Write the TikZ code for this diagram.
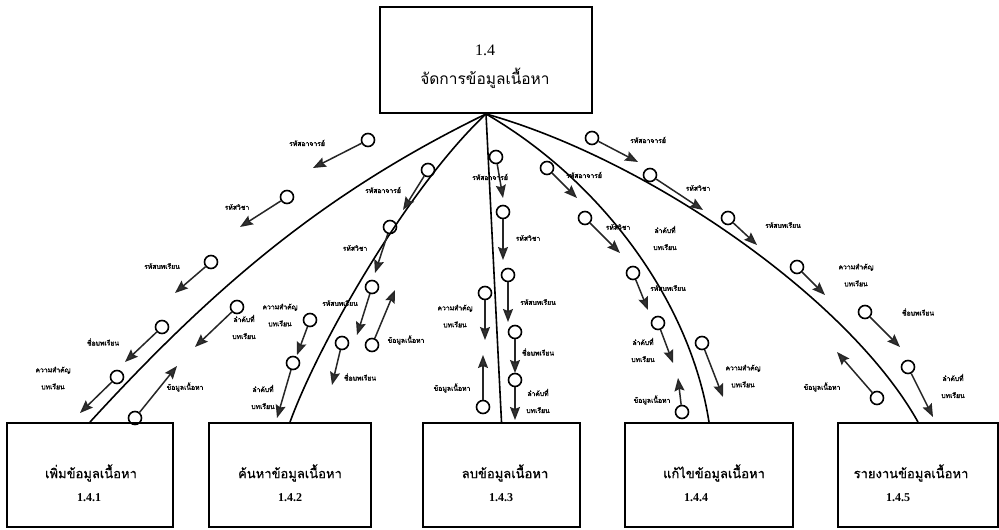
\documentclass[tikz,border=0pt]{standalone}
\usepackage{fontspec}
\setmainfont{Liberation Serif}
\newfontfamily\thai[Script=Thai, AutoFakeBold=1.6]{Loma}
\newfontfamily\thaititle[Script=Thai, AutoFakeBold=0.8]{Loma}
\usetikzlibrary{arrows.meta}

\tikzset{
  procbox/.style={draw, line width=1.9pt, inner sep=0pt},
  ring/.style={circle, draw, line width=1.6pt, minimum size=13pt, inner sep=0pt},
  flow/.style={line width=1.5pt, draw=black!85,
    -{Stealth[length=13pt,width=10pt,inset=2pt,fill=black!80]}},
  link/.style={line width=1.6pt},
  lbl/.style={font=\thai\bfseries\fontsize{6.8}{17}\selectfont, align=center, inner sep=0pt},
  boxtitle/.style={font=\thaititle\bfseries\fontsize{13}{15}\selectfont, inner sep=0pt},
  boxnum/.style={font=\bfseries\fontsize{12}{14}\selectfont, inner sep=0pt},
}

% data couple: ring at the start, arrow to the tip
\newcommand{\dcouple}[3]{%
  \node[ring] (#1) at (#2) {};
  \coordinate (#1t) at (#3);
  \draw[flow] (#1) -- (#1t);
}

\begin{document}
\begin{tikzpicture}[x=1pt, y=-1pt]
\fill[white] (0,0) rectangle (999,530);
\useasboundingbox (0,0) rectangle (999,530);

% process boxes
\node[procbox, minimum width=212pt, minimum height=106pt] (top) at (486,60) {};
\node[font=\fontsize{16}{18}\selectfont, inner sep=0pt] (topnum) at (485,50) {1.4};
\node[font=\thai\fontsize{15.5}{18}\selectfont, inner sep=0pt] (toptitle) at (485,78) {จัดการข้อมูลเนื้อหา};

\node[procbox, minimum width=166pt, minimum height=104pt] (b1) at (90,475) {};
\node[procbox, minimum width=162pt, minimum height=104pt] (b2) at (290,475) {};
\node[procbox, minimum width=157pt, minimum height=104pt] (b3) at (501.5,475) {};
\node[procbox, minimum width=168pt, minimum height=104pt] (b4) at (709,475) {};
\node[procbox, minimum width=160pt, minimum height=104pt] (b5) at (918,475) {};

\node[boxtitle] (t1) at (91,473) {เพิ่มข้อมูลเนื้อหา};
\node[boxnum]   (n1) at (89,498) {1.4.1};
\node[boxtitle] (t2) at (290,473) {ค้นหาข้อมูลเนื้อหา};
\node[boxnum]   (n2) at (290,498) {1.4.2};
\node[boxtitle] (t3) at (505,473) {ลบข้อมูลเนื้อหา};
\node[boxnum]   (n3) at (501,498) {1.4.3};
\node[boxtitle] (t4) at (714,473) {แก้ไขข้อมูลเนื้อหา};
\node[boxnum]   (n4) at (696,498) {1.4.4};
\node[boxtitle] (t5) at (911,473) {รายงานข้อมูลเนื้อหา};
\node[boxnum]   (n5) at (898,498) {1.4.5};

% connections from the controlling module
\draw[link] (top.south) .. controls (330,190) and (220,280) .. (b1.north);
\draw[link] (top.south) .. controls (410,185) and (320,340) .. (b2.north);
\draw[link] (top.south) -- (b3.north);
\draw[link] (top.south) .. controls (600,180) and (690,300) .. (b4.north);
\draw[link] (top.south) .. controls (650,160) and (850,300) .. (b5.north);

% couples to 1.4.1
\dcouple{c1a}{368,140}{313,168}
\dcouple{c1b}{287,197}{240,227}
\dcouple{c1c}{211,262}{175,293}
\dcouple{c1d}{162,327}{125,362}
\dcouple{c1e}{117,377}{80,413}
\dcouple{c1f}{237,307}{195,347}
\dcouple{c1g}{135,418}{177,366}
\node[lbl] (l1a) at (307,143) {รหัสอาจารย์};
\node[lbl] (l1b) at (237,207) {รหัสวิชา};
\node[lbl] (l1c) at (162,266) {รหัสบทเรียน};
\node[lbl] (l1d) at (103,342) {ชื่อบทเรียน};
\node[lbl] (l1e) at (53,378) {ความสำคัญ\\บทเรียน};
\node[lbl] (l1f) at (244,327) {ลำดับที่\\บทเรียน};
\node[lbl] (l1g) at (185,387) {ข้อมูลเนื้อหา};

% couples to 1.4.2
\dcouple{c2a}{428,170}{403,210}
\dcouple{c2b}{390,227}{375,273}
\dcouple{c2c}{372,287}{357,335}
\dcouple{c2d}{342,343}{332,385}
\dcouple{c2e}{372,345}{395,290}
\dcouple{c2f}{310,320}{297,355}
\dcouple{c2g}{293,363}{277,418}
\node[lbl] (l2a) at (383,190) {รหัสอาจารย์};
\node[lbl] (l2b) at (355,248) {รหัสวิชา};
\node[lbl] (l2c) at (340,303) {รหัสบทเรียน};
\node[lbl] (l2d) at (360,377) {ชื่อบทเรียน};
\node[lbl] (l2e) at (406,340) {ข้อมูลเนื้อหา};
\node[lbl] (l2f) at (280,315) {ความสำคัญ\\บทเรียน};
\node[lbl] (l2g) at (263,397) {ลำดับที่\\บทเรียน};

% couples to 1.4.3
\dcouple{c3a}{496,157}{503,198}
\dcouple{c3b}{503,212}{503,260}
\dcouple{c3c}{508,275}{508,322}
\dcouple{c3d}{515,332}{515,373}
\dcouple{c3e}{515,380}{515,420}
\dcouple{c3f}{485,293}{485,340}
\dcouple{c3g}{483,407}{483,355}
\node[lbl] (l3a) at (490,177) {รหัสอาจารย์};
\node[lbl] (l3b) at (528,238) {รหัสวิชา};
\node[lbl] (l3c) at (538,302) {รหัสบทเรียน};
\node[lbl] (l3d) at (538,352) {ชื่อบทเรียน};
\node[lbl] (l3e) at (538,401) {ลำดับที่\\บทเรียน};
\node[lbl] (l3f) at (455,316) {ความสำคัญ\\บทเรียน};
\node[lbl] (l3g) at (452,388) {ข้อมูลเนื้อหา};

% couples to 1.4.4
\dcouple{c4a}{547,168}{577,198}
\dcouple{c4b}{585,218}{620,253}
\dcouple{c4c}{633,273}{648,310}
\dcouple{c4d}{658,323}{673,363}
\dcouple{c4e}{702,343}{723,397}
\dcouple{c4f}{682,412}{678,378}
\node[lbl] (l4a) at (584,175) {รหัสอาจารย์};
\node[lbl] (l4b) at (618,227) {รหัสวิชา};
\node[lbl] (l4c) at (668,288) {รหัสบทเรียน};
\node[lbl] (l4d) at (643,350) {ลำดับที่\\บทเรียน};
\node[lbl] (l4x) at (665,238) {ลำดับที่\\บทเรียน};
\node[lbl] (l4e) at (743,376) {ความสำคัญ\\บทเรียน};
\node[lbl] (l4f) at (652,400) {ข้อมูลเนื้อหา};

% couples to 1.4.5
\dcouple{c5a}{592,138}{638,162}
\dcouple{c5b}{650,175}{703,210}
\dcouple{c5c}{728,218}{757,245}
\dcouple{c5d}{797,267}{825,295}
\dcouple{c5e}{865,312}{900,347}
\dcouple{c5f}{908,367}{933,417}
\dcouple{c5g}{877,398}{837,352}
\node[lbl] (l5a) at (648,140) {รหัสอาจารย์};
\node[lbl] (l5b) at (698,188) {รหัสวิชา};
\node[lbl] (l5c) at (783,225) {รหัสบทเรียน};
\node[lbl] (l5d) at (856,275) {ความสำคัญ\\บทเรียน};
\node[lbl] (l5e) at (918,312) {ชื่อบทเรียน};
\node[lbl] (l5f) at (953,386) {ลำดับที่\\บทเรียน};
\node[lbl] (l5g) at (822,387) {ข้อมูลเนื้อหา};
\end{tikzpicture}
\end{document}
